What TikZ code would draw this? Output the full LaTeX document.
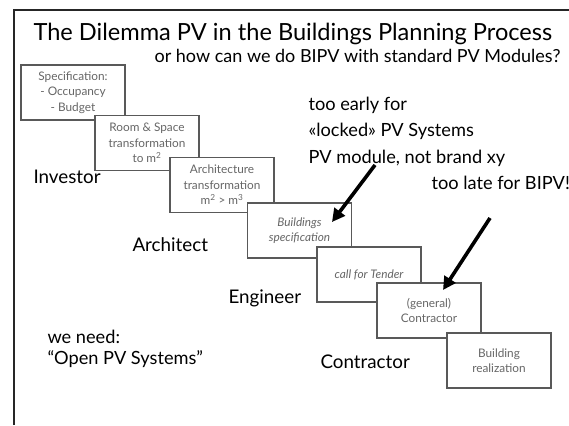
\documentclass[tikz,border=0pt]{standalone}
\usepackage{fontspec}
\setmainfont{Lato}
\usetikzlibrary{arrows.meta}
\begin{document}
\begin{tikzpicture}[x=1pt,y=-1pt,
		stage/.style={draw=black!65,line width=1.1pt,fill=white,text=black!60,font=\fontsize{11.8}{15.5}\selectfont,align=center,minimum width=104pt,minimum height=55pt,inner sep=1pt},
		role/.style={anchor=west,font=\fontsize{18.8}{22}\selectfont},
		remark/.style={anchor=west,font=\fontsize{18.2}{22}\selectfont},
		pointer/.style={line width=3.6pt,-{Triangle[length=13pt,width=13pt]}}]
		\useasboundingbox (0,0) rectangle (569,425);
		\draw [line width=2.5pt,black!85] (14,425) -- (14,10) -- (569,10);
		\node [anchor=west,font=\fontsize{23.6}{26}\selectfont] (title) at (30,34) {The Dilemma PV in the Buildings Planning Process};
		\node [anchor=east,font=\fontsize{18}{20}\selectfont] (subtitle) at (564,56) {or how can we do BIPV with standard PV Modules?};
		\node [stage] (spec) at (73,92.5) {Specification:\\- Occupancy\\- Budget};
		\node [stage] (room) at (147,143) {Room \& Space\\transformation\\to m\textsuperscript{2}};
		\node [stage] (arch) at (222,185) {Architecture\\transformation\\m\textsuperscript{2} > m\textsuperscript{3}};
		\node [stage,font=\itshape\fontsize{11.8}{15.5}\selectfont] (build) at (299.5,230.5) {Buildings\\specification};
		\node [stage,font=\itshape\fontsize{11.8}{15.5}\selectfont] (tender) at (369,274.5) {call for Tender};
		\node [stage] (general) at (429,310.5) {(general)\\Contractor};
		\node [stage] (real) at (499,360.5) {Building\\realization};
		\node [role] (investor) at (30,177) {Investor};
		\node [role] (architect) at (129,245) {Architect};
		\node [role] (engineer) at (225,298) {Engineer};
		\node [role] (contractor) at (317,362) {Contractor};
		\node [remark] (early) at (305,105) {too early for};
		\node [remark] (locked) at (305,131) {«locked» PV Systems};
		\node [remark] (module) at (305,158) {PV module, not brand xy};
		\node [remark] (late) at (428,183) {too late for BIPV!};
		\node [remark] (need) at (44,337) {we need:};
		\node [remark] (open) at (44,359) {“Open PV Systems”};
		\coordinate (earlytail) at (375,165);
		\coordinate (earlytip) at (332,222);
		\coordinate (latetail) at (490,218);
		\coordinate (latetip) at (443,290);
		\draw [pointer] (earlytail) -- (earlytip);
		\draw [pointer] (latetail) -- (latetip);
\end{tikzpicture}
\end{document}
